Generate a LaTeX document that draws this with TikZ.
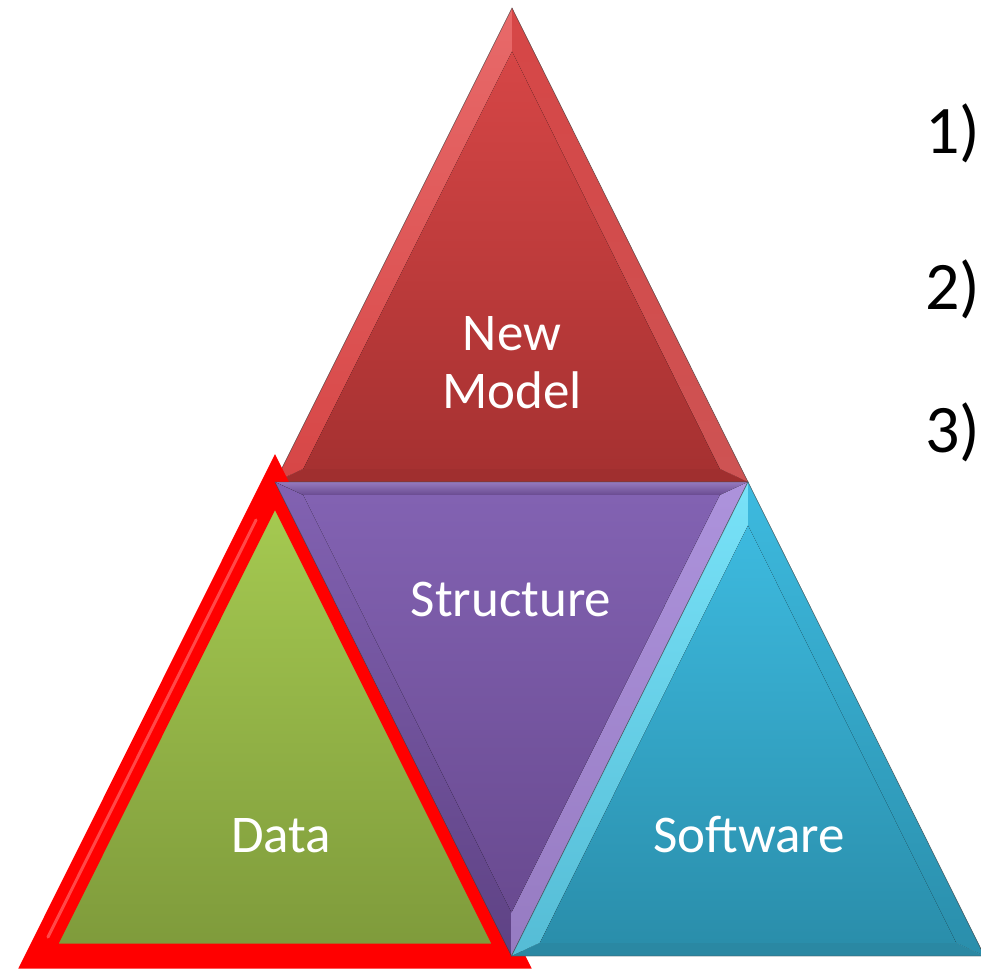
\documentclass[tikz,border=0pt]{standalone}
\usepackage{fontspec}
\setmainfont{Carlito}
\usetikzlibrary{calc}

\definecolor{nmtop}{HTML}{D64646}
\definecolor{nmbot}{HTML}{A63131}
\definecolor{nmlight}{HTML}{E86A6A}
\definecolor{nmdark}{HTML}{A02F2F}
\definecolor{sttop}{HTML}{8262B2}
\definecolor{stbot}{HTML}{694A90}
\definecolor{stlight}{HTML}{BBA3EA}
\definecolor{stdark}{HTML}{5E4284}
\definecolor{datatop}{HTML}{A7CC52}
\definecolor{databot}{HTML}{7E9A3B}
\definecolor{datahl}{HTML}{FF7A7A}
\definecolor{swtop}{HTML}{3DBADF}
\definecolor{swbot}{HTML}{2A8EAB}
\definecolor{swlight}{HTML}{78E2F8}
\definecolor{swdark}{HTML}{2A88A3}

\begin{document}
\begin{tikzpicture}[x=1pt,y=-1pt,line join=miter,
  label node/.style={text=white,font=\fontsize{53}{60}\selectfont,anchor=base,inner sep=0pt},
  item node/.style={text=black,font=\fontsize{68}{72}\selectfont,anchor=base west,inner sep=0pt},
  rim line/.style={draw=black!70,line width=0.8pt,opacity=0.45}]

  \fill[white] (0,0) rectangle (981,970);
  \useasboundingbox (0,0) rectangle (981,970);

  \coordinate (NA) at (512,8);
  \coordinate (NL) at (275,482);
  \coordinate (NR) at (748,482);
  \coordinate (NC) at (512,371.7);
  \coordinate (DA) at (275,482);
  \coordinate (DL) at (38.5,956);
  \coordinate (DR) at (511.5,956);
  \coordinate (SL) at (275,482);
  \coordinate (SR) at (748,482);
  \coordinate (SB) at (511.5,956);
  \coordinate (SC) at (511.5,592.3);
  \coordinate (WA) at (748,482);
  \coordinate (WL) at (511.5,956);
  \coordinate (WR) at (984.5,956);
  \coordinate (WC) at (748,845.7);
  \foreach \p in {A,L,R} {
    \coordinate (Ni\p) at ($(NC)!0.88!(N\p)$);
    \coordinate (Wi\p) at ($(WC)!0.88!(W\p)$);
  }
  \foreach \p in {L,R,B}
    \coordinate (Si\p) at ($(SC)!0.88!(S\p)$);

  \fill[top color=nmlight,bottom color=nmtop] (NA) -- (NL) -- (NiL) -- (NiA) -- cycle;
  \fill[top color=nmtop,bottom color=nmlight!60!nmbot] (NA) -- (NR) -- (NiR) -- (NiA) -- cycle;
  \fill[nmdark] (NL) -- (NR) -- (NiR) -- (NiL) -- cycle;
  \fill[top color=nmtop,bottom color=nmbot] (NiA) -- (NiL) -- (NiR) -- cycle;
  \draw[rim line] (NA) -- (NL) -- (NR) -- cycle;

  \fill[top color=datatop,bottom color=databot] (DA) -- (DL) -- (DR) -- cycle;
  \draw[red,line width=25pt] (DA) -- (DL) -- (DR) -- cycle;
  \draw[datahl,line width=3pt,line cap=round,opacity=0.6] ($(DA)!0.08!(DL)$) -- ($(DA)!0.96!(DL)$);

  \fill[top color=sttop!85!white,bottom color=stbot] (SL) -- (SR) -- (SiR) -- (SiL) -- cycle;
  \fill[top color=sttop,bottom color=stdark] (SL) -- (SB) -- (SiB) -- (SiL) -- cycle;
  \fill[top color=stlight!75!sttop,bottom color=stlight!55!stbot] (SR) -- (SB) -- (SiB) -- (SiR) -- cycle;
  \fill[top color=sttop,bottom color=stbot] (SiL) -- (SiR) -- (SiB) -- cycle;
  \draw[rim line] (SL) -- (SR) -- (SB) -- cycle;

  \fill[top color=swlight,bottom color=swlight!55!swbot] (WA) -- (WL) -- (WiL) -- (WiA) -- cycle;
  \fill[top color=swtop,bottom color=swbot] (WA) -- (WR) -- (WiR) -- (WiA) -- cycle;
  \fill[swdark] (WL) -- (WR) -- (WiR) -- (WiL) -- cycle;
  \fill[top color=swtop,bottom color=swbot] (WiA) -- (WiL) -- (WiR) -- cycle;
  \draw[rim line] (WA) -- (WL) -- (WR) -- cycle;

  \node[label node] (new) at (512,350) {New};
  \node[label node] (model) at (512,408) {Model};
  \node[label node] (structure) at (511,616) {Structure};
  \node[label node] (data) at (281,852) {Data};
  \node[label node] (software) at (749,852) {Software};

  \node[item node] (one) at (925,153) {1)};
  \node[item node] (two) at (925,309) {2)};
  \node[item node] (three) at (925,452) {3)};
\end{tikzpicture}
\end{document}
